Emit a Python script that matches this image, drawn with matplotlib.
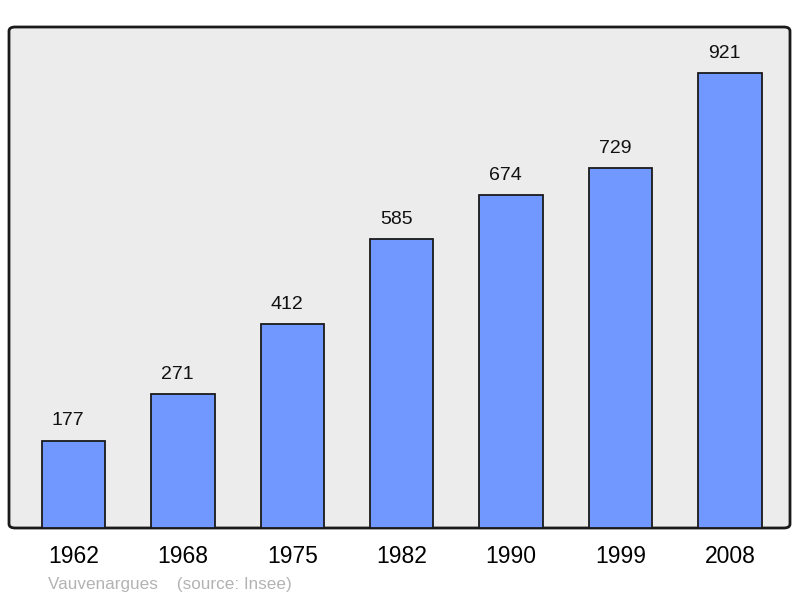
import matplotlib
matplotlib.use("Agg")
import matplotlib.pyplot as plt
from matplotlib.patches import FancyBboxPatch

years = ["1962", "1968", "1975", "1982", "1990", "1999", "2008"]
population = [177, 271, 412, 585, 674, 729, 921]

plt.rcParams['font.family'] = ['Liberation Sans', 'DejaVu Sans']

fig = plt.figure(figsize=(8.0, 5.98), dpi=100)
ax = fig.add_axes([9/800, 1-528/598, 781/800, 501/598])
ax.set_facecolor('none')
for s in ax.spines.values():
    s.set_visible(False)

bg = FancyBboxPatch((0, 0), 1, 1, boxstyle="round,pad=0,rounding_size=0.008",
                    transform=ax.transAxes, facecolor='#ececec', edgecolor='#1a1a1a',
                    linewidth=2, zorder=0, clip_on=False)
ax.add_patch(bg)

x = list(range(len(years)))
ax.bar(x, population, width=0.58, color='#7098fe', edgecolor='#1a1a1a', linewidth=1.3, zorder=2)
for xi, v in zip(x, population):
    ax.annotate(str(v), (xi, v), xytext=(-4, 8), textcoords='offset points',
                ha='center', va='bottom', fontsize=14, color='#111111')

ax.set_xlim(-0.59, 6.55)
ax.set_ylim(0, 1014)
ax.set_yticks([])
ax.set_xticks(x)
ax.set_xticklabels(years, fontsize=16.5)
ax.tick_params(axis='x', length=0, pad=12)

fig.text(48/800, 1-584/598, "Vauvenargues    (source: Insee)", fontsize=12.3,
         color='#b3b3b3', ha='left', va='center')

fig.savefig("out.png", dpi=100)
